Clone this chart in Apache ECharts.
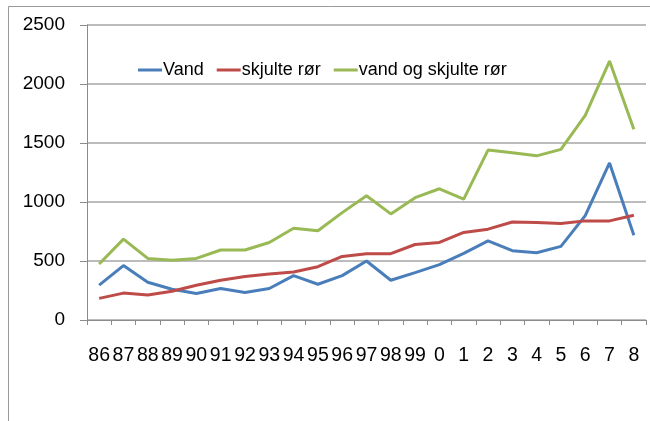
<!DOCTYPE html>
<html>
<head>
<meta charset="utf-8">
<script src="https://cdn.jsdelivr.net/npm/echarts@6/dist/echarts.min.js"></script>
<style>
html,body{margin:0;padding:0;background:#fff;}
#chart{width:650px;height:421px;}
</style>
</head>
<body>
<div id="chart"></div>
<script>
const categories = ['86','87','88','89','90','91','92','93','94','95','96','97','98','99','0','1','2','3','4','5','6','7','8'];
const vand = [295,461,320,261,225,267,233,267,376,303,376,500,337,402,469,565,671,587,570,624,885,1331,719];
const skjulteRor = [183,228,211,244,295,337,368,390,407,452,539,562,562,640,657,742,770,831,826,817,840,840,888];
const vandOgSkjulteRor = [475,685,522,506,522,593,593,657,778,756,910,1053,899,1037,1112,1025,1440,1417,1391,1446,1734,2194,1617];
const yTicks = [0,500,1000,1500,2000,2500];

const FONT = '"Liberation Sans", Arial, sans-serif';
const chart = echarts.init(document.getElementById('chart'), null, {renderer:'canvas'});
chart.setOption({
  animation:false,
  backgroundColor:'#ffffff',
  textStyle:{fontFamily:FONT},
  graphic:[
    {type:'line', shape:{x1:8.5,y1:6.5,x2:650,y2:6.5}, style:{stroke:'#9a9a9a',lineWidth:1}},
    {type:'line', shape:{x1:8.5,y1:6.5,x2:8.5,y2:421}, style:{stroke:'#9a9a9a',lineWidth:1}}
  ],
  grid:{left:87,right:4,top:25,bottom:101,containLabel:false},
  legend:{
    left:133, top:56,
    itemWidth:24, itemHeight:3, itemGap:13,
    icon:'rect',
    textStyle:{fontFamily:FONT,fontSize:18,color:'#000',padding:[0,0,0,-4]},
    data:['Vand','skjulte rør','vand og skjulte rør']
  },
  xAxis:{
    type:'category',
    data:categories,
    boundaryGap:true,
    axisLine:{lineStyle:{color:'#8c8c8c',width:1}},
    axisTick:{show:true,length:5,alignWithLabel:false,lineStyle:{color:'#8c8c8c'}},
    axisLabel:{interval:0,margin:26,fontFamily:FONT,fontSize:19.5,color:'#000'},
    splitLine:{show:false}
  },
  yAxis:{
    type:'value',
    min:yTicks[0], max:yTicks[yTicks.length-1], interval:500,
    axisLine:{show:true,lineStyle:{color:'#8c8c8c',width:1}},
    axisTick:{show:true,length:7,lineStyle:{color:'#8c8c8c'}},
    axisLabel:{margin:22,fontFamily:FONT,fontSize:19,color:'#000',formatter:function(v){return String(v);}},
    splitLine:{show:true,lineStyle:{color:'#a6a6a6',width:1.5}}
  },
  series:[
    {name:'Vand',type:'line',data:vand,symbol:'none',lineStyle:{color:'#4a7ebb',width:3},itemStyle:{color:'#4a7ebb'}},
    {name:'skjulte rør',type:'line',data:skjulteRor,symbol:'none',lineStyle:{color:'#be4b48',width:3},itemStyle:{color:'#be4b48'}},
    {name:'vand og skjulte rør',type:'line',data:vandOgSkjulteRor,symbol:'none',lineStyle:{color:'#98b954',width:3},itemStyle:{color:'#98b954'}}
  ]
});
</script>
</body>
</html>
